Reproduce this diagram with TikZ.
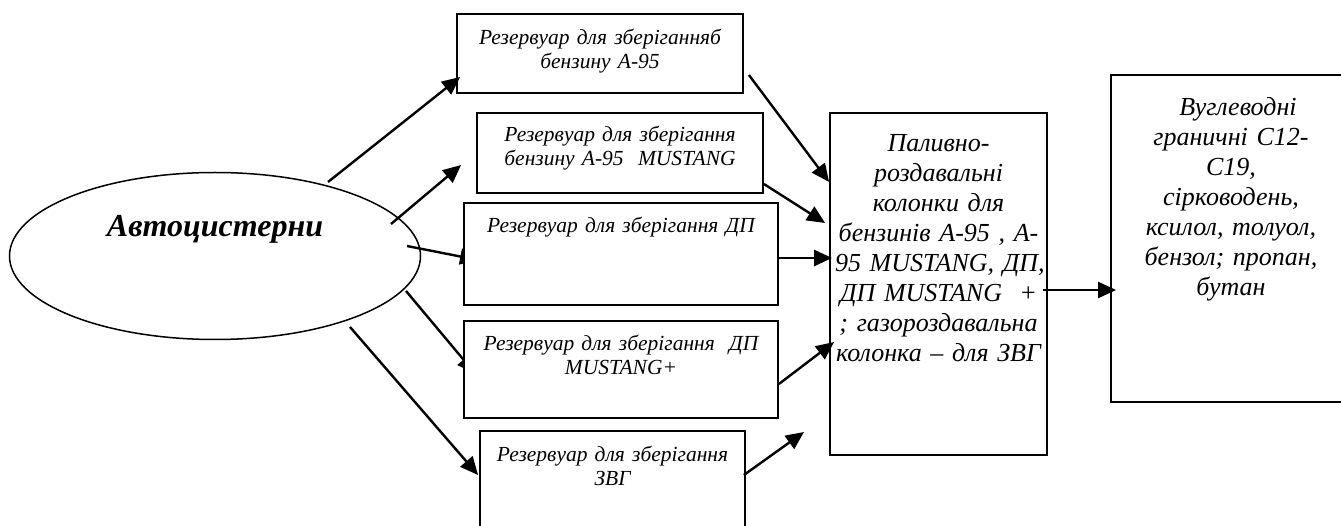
\documentclass[tikz,border=0pt]{standalone}
\usepackage{fontspec}
\setmainfont{Liberation Serif}
\usetikzlibrary{arrows.meta,shapes.geometric,backgrounds}

\begin{document}
\begin{tikzpicture}[x=1pt,y=-1pt,>={Triangle[length=18pt,width=16pt]},
  tank/.style={draw,line width=1.8pt,fill=white,inner sep=0pt,align=center,font=\itshape\fontsize{21.5}{24}\selectfont},
  bigbox/.style={tank,font=\itshape\fontsize{26}{30}\selectfont},
  flow/.style={->,line width=2.4pt}]
\useasboundingbox(0,0)rectangle(1341,526);
% source
\node[ellipse,draw,line width=1.5pt,inner sep=0pt,minimum width=411pt,minimum height=167pt,text height=22pt,text depth=60pt,font=\bfseries\itshape\fontsize{32}{34}\selectfont](auto)at(215,256){Автоцистерни};
% storage tanks
\node[tank,minimum width=286pt,text width=276pt,text height=31pt,text depth=48pt](r1)at(600,53.5){Резервуар для зберіганняб\\бензину А-95};
\node[tank,minimum width=286pt,text width=276pt,text height=29pt,text depth=51pt](r2)at(620,153){Резервуар для зберігання\\бензину А-95~~MUSTANG};
\node[tank,minimum width=314pt,text width=304pt,text height=30pt,text depth=72pt](r3)at(621,254){Резервуар для зберігання ДП};
\node[tank,minimum width=314pt,text width=304pt,text height=30pt,text depth=67pt](r4)at(621,369.5){Резервуар для зберігання~~ДП\\MUSTANG+};
\node[tank,minimum width=265pt,text width=255pt,text height=30pt,text depth=90pt](r5)at(612.5,491){Резервуар для зберігання\\ЗВГ};
% dispensers and emissions
\node[bigbox,minimum width=217pt,text width=207pt,text height=39pt,text depth=303pt](pump)at(938.5,284){Паливно-\\роздавальні\\колонки для\\\mbox{бензинів А-95 , А-}\\\mbox{95 MUSTANG, ДП,}\\\mbox{ДП MUSTANG~~+}\\\mbox{; газороздавальна}\\\mbox{колонка – для ЗВГ}};
\node[bigbox,minimum width=240pt,text width=230pt,text height=41pt,text depth=286pt](emis)at(1231,238.5){\hspace*{14pt}Вуглеводні\\граничні С12-\\С19,\\сірководень,\\ксилол, толуол,\\бензол; пропан,\\бутан};
\coordinate(gap)at(804,432);
% arrows
\draw[flow]([xshift=113pt,yshift=74pt]auto.center)--([xshift=4pt,yshift=-23.5pt]r1.west);
\draw[flow]([xshift=176pt,yshift=32pt]auto.center)--([xshift=-15pt,yshift=-12pt]r2.west);
\begin{scope}[on background layer]
\draw[flow]([xshift=192pt,yshift=10pt]auto.center)--([xshift=15pt,yshift=-6pt]r3.west);
\draw[flow]([xshift=191pt,yshift=-35pt]auto.center)--([xshift=12pt,yshift=-4pt]r4.west);
\end{scope}
\draw[flow]([xshift=135pt,yshift=-71pt]auto.center)--([xshift=-1pt,yshift=16pt]r5.west);
\draw[flow]([xshift=5pt,yshift=-21.5pt]r1.east)--([yshift=102pt]pump.west);
\draw[flow]([yshift=-31pt]r2.east)--([xshift=-4pt,yshift=61pt]pump.west);
\draw[flow]([yshift=-4pt]r3.east)--([xshift=3pt,yshift=26pt]pump.west);
\draw[flow]([yshift=-14.5pt]r4.east)--([xshift=5pt,yshift=-58pt]pump.west);
\draw[flow]([xshift=-2pt,yshift=16pt]r5.east)--(gap);
\draw[flow]([xshift=-5pt,yshift=-6pt]pump.east)--([xshift=6pt,yshift=-51.5pt]emis.west);
\end{tikzpicture}
\end{document}
